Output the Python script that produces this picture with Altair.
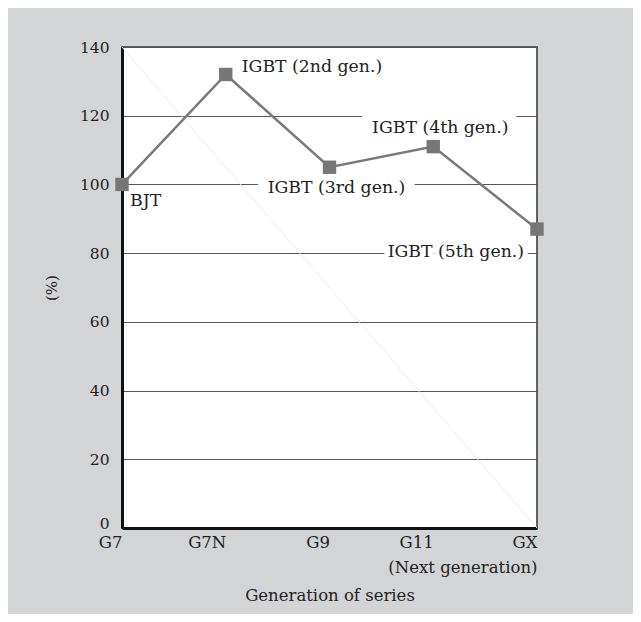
import altair as alt
import pandas as pd

gens = ["G7", "G7N", "G9", "G11", "GX"]
values = [100, 132, 105, 111, 87]
labels = ["BJT", "IGBT (2nd gen.)", "IGBT (3rd gen.)", "IGBT (4th gen.)", "IGBT (5th gen.)"]
y_ticks = [0, 20, 40, 60, 80, 100, 120, 140]
diag_gens = ["G7", "GX"]
diag_vals = [140, 0]

df = pd.DataFrame({"gen": gens, "value": values, "label": labels})
diag = pd.DataFrame({"gen": diag_gens, "value": diag_vals})

FONT = "DejaVu Serif"
TXT = "#222222"

x_enc = alt.X(
    "gen:N",
    sort=gens,
    scale=alt.Scale(type="point", padding=0),
    axis=alt.Axis(
        title="Generation of series",
        labelAngle=0,
        labelExpr="datum.value == 'GX' ? ['GX', '(Next generation)'] : datum.value",
        labelLineHeight=25,
        labelPadding=14,
        tickSize=0,
        domainColor="#111111",
        domainWidth=3,
        gridColor="#222222",
        gridWidth=1,
        titlePadding=12,
        labelFont=FONT,
        labelFontSize=16.5,
        labelColor=TXT,
        titleFont=FONT,
        titleFontSize=16.5,
        titleFontWeight="normal",
        titleColor=TXT,
    ),
)
y_enc = alt.Y(
    "value:Q",
    scale=alt.Scale(domain=[0, 140], nice=False, zero=True),
    axis=alt.Axis(
        title="(%)",
        values=y_ticks,
        tickSize=0,
        labelPadding=13,
        labelBaseline={"condition": {"test": "datum.value === 0", "value": "alphabetic"}, "value": "middle"},
        domainColor="#111111",
        domainWidth=3,
        gridColor="#555555",
        gridWidth=1,
        titlePadding=20,
        labelFont=FONT,
        labelFontSize=15.5,
        labelColor=TXT,
        titleFont=FONT,
        titleFontSize=15,
        titleFontWeight="normal",
        titleColor=TXT,
    ),
)

base = alt.Chart(df).encode(x=x_enc, y=y_enc)

diag_line = alt.Chart(diag).mark_line(color="#ededed", strokeWidth=1).encode(
    x=alt.X("gen:N", sort=gens), y="value:Q"
)

line = base.mark_line(color="#7a7a7a", strokeWidth=2.5)
pts = base.mark_point(shape="square", filled=True, size=180, color="#777777", opacity=1)

# label, align, dx, dy, halo width
label_specs = [
    ("BJT", "left", 8, 17, 8),
    ("IGBT (2nd gen.)", "left", 16, -7, 16),
    ("IGBT (3rd gen.)", "center", 7, 21, 22),
    ("IGBT (4th gen.)", "center", 7, -19, 24),
    ("IGBT (5th gen.)", "right", -13, 23, 10),
]

halos = []
texts = []
for lab, al, dx, dy, hw in label_specs:
    sel = base.transform_filter(alt.datum.label == lab)
    halos.append(
        sel.mark_text(
            align=al, baseline="middle", dx=dx, dy=dy, font=FONT, fontSize=17.3,
            fill="white", stroke="white", strokeWidth=hw, strokeJoin="round",
        ).encode(text="label:N")
    )
    texts.append(
        sel.mark_text(
            align=al, baseline="middle", dx=dx, dy=dy, font=FONT, fontSize=17.3, color=TXT,
        ).encode(text="label:N")
    )

chart = (
    alt.layer(diag_line, *halos, line, pts, *texts)
    .properties(
        width=415,
        height=481,
        autosize=alt.AutoSizeParams(type="none"),
        padding={"left": 114, "top": 39, "right": 96, "bottom": 86},
        background="#d3d4d6",
    )
    .configure_view(stroke="#333333", strokeWidth=1.5, fill="white")
)

chart.save("out.html", embed_options={"renderer": "svg", "actions": False})
